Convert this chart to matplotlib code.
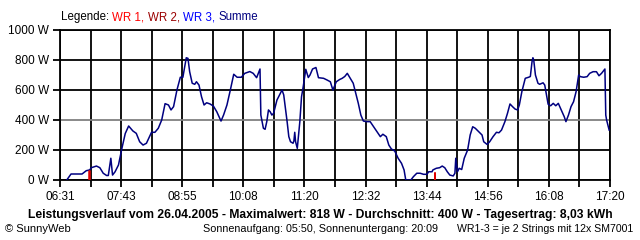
import matplotlib
matplotlib.use("Agg")
import matplotlib.pyplot as plt

# time in minutes after midnight, power in W (Summe)
minutes = [399, 404, 411, 417, 422, 426, 428, 434, 438, 442, 446, 448, 451, 453, 456, 460,
           464, 468, 472, 477, 481, 485, 489, 493, 499, 503, 507, 511, 515, 519, 522, 525,
           529, 533, 536, 540, 542, 544, 547, 550, 552, 555, 558, 561, 564, 568, 572, 576,
           581, 584, 588, 592, 596, 600, 605, 609, 615, 619, 623, 627, 628, 631, 633, 635,
           637, 639, 641, 643, 645, 647, 651, 653, 655, 657, 659, 661, 663, 666, 667, 668,
           669, 671, 674, 676, 678, 681, 684, 686, 689, 693, 696, 702, 706, 710, 713, 717,
           721, 724, 727, 730, 733, 737, 740, 743, 746, 749, 753, 757, 761, 765, 769, 772,
           776, 779, 782, 786, 790, 794, 797, 799, 805, 808, 812, 816, 820, 824, 826, 830,
           831, 835, 839, 842, 845, 848, 851, 855, 857, 858, 860, 862, 865, 868, 872, 875,
           878, 881, 885, 889, 891, 895, 898, 902, 906, 909, 912, 916, 919, 922, 925, 928,
           931, 933, 936, 940, 944, 946, 948, 949, 950, 952, 955, 957, 961, 963, 965, 967,
           970, 973, 976, 979, 983, 986, 988, 991, 994, 997, 1000, 1003, 1005, 1009, 1013, 1016,
           1020, 1024, 1027, 1030, 1034, 1035, 1036, 1039]
summe = [0, 40, 40, 40, 62, 67, 82, 93, 82, 45, 30, 30, 145, 33, 55, 100,
         210, 310, 360, 327, 311, 255, 233, 245, 318, 318, 345, 400, 509, 500, 467, 489,
         600, 685, 685, 815, 811, 722, 645, 638, 655, 633, 555, 500, 515, 507, 493, 455,
         393, 433, 500, 600, 705, 685, 685, 711, 723, 711, 682, 740, 433, 345, 338, 389,
         467, 455, 433, 444, 489, 533, 578, 600, 567, 478, 389, 289, 255, 245, 260, 318,
         255, 211, 389, 555, 622, 738, 683, 700, 740, 750, 682, 678, 667, 655, 600, 655,
         670, 678, 690, 711, 683, 645, 578, 511, 433, 393, 389, 389, 356, 322, 289, 305,
         289, 233, 207, 193, 145, 111, 67, 0, 0, 22, 45, 45, 38, 38, 55, 55,
         67, 78, 82, 93, 82, 55, 33, 27, 45, 145, 55, 78, 70, 145, 200, 300,
         355, 345, 322, 300, 255, 237, 255, 289, 318, 315, 333, 389, 444, 507, 489, 473,
         467, 500, 589, 678, 685, 690, 789, 815, 800, 700, 645, 638, 648, 633, 567, 505,
         495, 511, 495, 511, 460, 422, 389, 433, 489, 522, 589, 700, 689, 685, 689, 711,
         722, 722, 695, 711, 740, 433, 400, 333]

# WR 1 (red) small spikes
wr1_minutes_a = [425, 425, 426, 426]
wr1_values_a = [0, 60, 60, 0]
wr1_minutes_b = [833, 833, 834, 834]
wr1_values_b = [0, 45, 45, 0]

t_start, t_end = 391, 1040
x_tick_labels = ["06:31", "07:43", "08:55", "10:08", "11:20", "12:32", "13:44",
                 "14:56", "16:08", "17:20"]
y_ticks = [0, 200, 400, 600, 800, 1000]
y_tick_labels = ["0 W", "200 W", "400 W", "600 W", "800 W", "1000 W"]

W, H = 640, 240
fig = plt.figure(figsize=(6.4, 2.4), dpi=100)
fig.patch.set_facecolor("white")
FONT = "Liberation Sans"
FS = 8.5

ax = fig.add_axes([60 / W, 1 - 180 / H, 550 / W, 150 / H])
ax.set_xlim(t_start, t_end)
ax.set_ylim(0, 1000)

n_int = 18
xt = [t_start + k * (t_end - t_start) / n_int for k in range(n_int + 1)]
for k, x in enumerate(xt):
    ax.axvline(x, color="black", lw=1.3, zorder=1)
for y in y_ticks:
    ax.axhline(y, color="#808080" if y == 400 else "black", lw=1.3, zorder=1)

ax.plot(minutes, summe, color="#000080", lw=1.1, zorder=3)
ax.plot(wr1_minutes_a, wr1_values_a, color="#e00000", lw=1.1, zorder=4)
ax.plot(wr1_minutes_b, wr1_values_b, color="#e00000", lw=1.1, zorder=4)

ax.set_xticks(xt)
ax.set_xticklabels([x_tick_labels[k // 2] if k % 2 == 0 else "" for k in range(n_int + 1)],
                   fontfamily=FONT, fontsize=FS)
ax.set_yticks(y_ticks)
ax.set_yticklabels(y_tick_labels, fontfamily=FONT, fontsize=FS)
ax.tick_params(direction="out", length=5, width=1.3, color="black", pad=3)
for s in ax.spines.values():
    s.set_linewidth(1.3)
    s.set_color("black")

fig.canvas.draw()
r = fig.canvas.get_renderer()


def text_w(s, fs, weight="normal"):
    t = fig.text(0, 0, s, fontfamily=FONT, fontsize=fs, fontweight=weight)
    w = t.get_window_extent(renderer=r).width
    t.remove()
    return w


def fit_fs(s, target, weight="normal"):
    return FS * target / text_w(s, FS, weight)


# legend line
legend_full = "Legende: WR 1, WR 2, WR 3, Summe"
lfs = fit_fs(legend_full, 196)
space_w = text_w("a a", lfs) - text_w("aa", lfs)
parts = [("Legende:", "black"), ("WR 1,", "#ff0000"), ("WR 2,", "#9a0000"),
         ("WR 3,", "#0000ff"), ("Summe", "#000080")]
xpos = 61
for txt, col in parts:
    t = fig.text(xpos / W, 1 - 17 / H, txt, color=col, fontfamily=FONT, fontsize=lfs,
                 va="center", ha="left")
    xpos += t.get_window_extent(renderer=r).width + space_w

title = "Leistungsverlauf vom 26.04.2005 - Maximalwert: 818 W - Durchschnitt: 400 W - Tagesertrag: 8,03 kWh"
fig.text(320 / W, 1 - 215 / H, title, fontfamily=FONT, fontsize=fit_fs(title, 580, "bold"),
         fontweight="bold", ha="center", va="center")
s1 = "© SunnyWeb"
fig.text(5 / W, 1 - 229 / H, s1, fontfamily=FONT, fontsize=fit_fs(s1, 65),
         ha="left", va="center")
s2 = "Sonnenaufgang: 05:50, Sonnenuntergang: 20:09"
fig.text(203 / W, 1 - 229 / H, s2, fontfamily=FONT, fontsize=fit_fs(s2, 234),
         ha="left", va="center")
s3 = "WR1-3 = je 2 Strings mit 12x SM7001"
fig.text(633 / W, 1 - 229 / H, s3, fontfamily=FONT, fontsize=fit_fs(s3, 175),
         ha="right", va="center")

fig.savefig("out.png", dpi=100, facecolor="white")
